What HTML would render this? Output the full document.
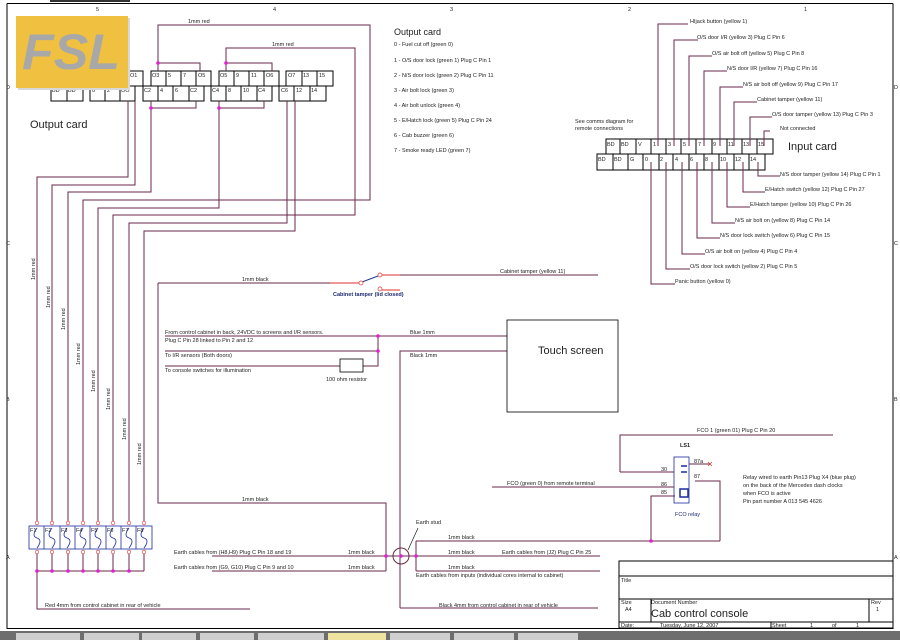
<!DOCTYPE html>
<html><head><meta charset="utf-8"><style>
html,body{margin:0;padding:0;background:#fff;}
svg{display:block;font-family:"Liberation Sans",sans-serif;}
.w{stroke:#6a2848;stroke-width:1;fill:none;}
.r{stroke:#e03030;stroke-width:1;fill:none;}
.k{stroke:#000;stroke-width:1;fill:none;}
text{font-size:5.5px;fill:#222;}
.j{fill:#e020d0;}
</style></head><body>
<svg width="900" height="640" viewBox="0 0 900 640" xmlns="http://www.w3.org/2000/svg">
<rect width="900" height="640" fill="#fff"/>
<!-- frame -->
<rect x="50" y="0" width="80" height="2" fill="#333"/>
<path class="k" d="M7 3.5H893M7 3.5V628.5H893V3.5" stroke-width="1.2"/>
<g style="font-size:8px">
<text x="96" y="11">5</text><text x="273" y="11">4</text><text x="450" y="11">3</text><text x="628" y="11">2</text><text x="804" y="11">1</text>
<text x="96" y="637">5</text><text x="273" y="637">4</text><text x="450" y="637">3</text><text x="628" y="637">2</text><text x="804" y="637">1</text>
<text x="6" y="89">D</text><text x="6" y="245">C</text><text x="6" y="401">B</text><text x="6" y="559">A</text>
<text x="894" y="89">D</text><text x="894" y="245">C</text><text x="894" y="401">B</text><text x="894" y="559">A</text>
</g>

<!-- Output card connector -->
<g class="k" stroke-width="0.8">
<rect x="128" y="71" width="15" height="15"/>
<rect x="151" y="71" width="60" height="15"/><path d="M166 71v15M181 71v15M196 71v15"/>
<rect x="219" y="71" width="60" height="15"/><path d="M234 71v15M249 71v15M264 71v15"/>
<rect x="286" y="71" width="47" height="15"/><path d="M302 71v15M317 71v15"/>
<rect x="51" y="86" width="32" height="15"/><path d="M67 86v15"/>
<rect x="90" y="86" width="45" height="15"/><path d="M105 86v15M120 86v15"/>
<rect x="143" y="86" width="61" height="15"/><path d="M158 86v15M173 86v15M189 86v15"/>
<rect x="211" y="86" width="61" height="15"/><path d="M226 86v15M241 86v15M257 86v15"/>
<rect x="279" y="86" width="47" height="15"/><path d="M294 86v15M310 86v15"/>
</g>
<g style="font-size:5.5px">
<text x="130" y="77">O1</text>
<text x="152" y="77">O3</text><text x="168" y="77">5</text><text x="183" y="77">7</text><text x="198" y="77">O5</text>
<text x="220" y="77">O5</text><text x="236" y="77">9</text><text x="251" y="77">11</text><text x="266" y="77">O6</text>
<text x="288" y="77">O7</text><text x="303" y="77">13</text><text x="319" y="77">15</text>
<text x="52" y="92">BD</text><text x="68" y="92">BD</text><text x="92" y="92">0</text><text x="107" y="92">2</text><text x="121" y="92">OO</text>
<text x="144" y="92">C2</text><text x="160" y="92">4</text><text x="175" y="92">6</text><text x="190" y="92">C2</text>
<text x="212" y="92">C4</text><text x="228" y="92">8</text><text x="243" y="92">10</text><text x="258" y="92">C4</text>
<text x="281" y="92">C6</text><text x="296" y="92">12</text><text x="311" y="92">14</text>
</g>
<text x="30" y="128" style="font-size:11px">Output card</text>

<!-- wiring from output card -->
<g class="w">
<path d="M158 71V25H370V200H83V523"/>
<path d="M226 71V48H355V215H113V523"/>
<path d="M158 63H200V71"/><path d="M226 63H272V71"/>
<path d="M151 101V192H68V523"/><path d="M151 108H196V101"/>
<path d="M219 101V208H98V523"/><path d="M219 108H264V101"/>
<path d="M128 101V177H37V523"/>
<path d="M135 101V185H52V523"/>
<path d="M287 101V223H129V523"/>
<path d="M295 101V231H144V523"/>
</g>
<circle class="j" cx="158" cy="63" r="1.8"/><circle class="j" cx="226" cy="63" r="1.8"/>
<circle class="j" cx="151" cy="108" r="1.8"/><circle class="j" cx="219" cy="108" r="1.8"/>
<text x="188" y="23">1mm red</text><text x="272" y="46">1mm red</text>
<g style="font-size:5.5px">
<text transform="translate(35,280) rotate(-90)">1mm red</text>
<text transform="translate(50,308) rotate(-90)">1mm red</text>
<text transform="translate(65,330) rotate(-90)">1mm red</text>
<text transform="translate(80,365) rotate(-90)">1mm red</text>
<text transform="translate(95,392) rotate(-90)">1mm red</text>
<text transform="translate(110,410) rotate(-90)">1mm red</text>
<text transform="translate(126,440) rotate(-90)">1mm red</text>
<text transform="translate(141,465) rotate(-90)">1mm red</text>
</g>

<!-- FSL logo -->
<rect x="18" y="18" width="112" height="72" fill="#d8d8d8"/>
<rect x="16" y="16" width="112" height="72" fill="#f0c040"/>
<text x="22" y="69" style="font-size:50px;font-weight:bold;font-style:italic;fill:#a8a8a8" textLength="98" lengthAdjust="spacingAndGlyphs">FSL</text>

<!-- Output card list -->
<text x="394" y="35" style="font-size:9px">Output card</text>
<text x="394" y="46">0 - Fuel cut off (green 0)</text>
<text x="394" y="62">1 - O/S door lock (green 1) Plug C Pin 1</text>
<text x="394" y="77">2 - N/S door lock (green 2) Plug C Pin 11</text>
<text x="394" y="92">3 - Air bolt lock (green 3)</text>
<text x="394" y="107">4 - Air bolt unlock (green 4)</text>
<text x="394" y="122">5 - E/Hatch lock (green 5) Plug C Pin 24</text>
<text x="394" y="137">6 - Cab buzzer (green 6)</text>
<text x="394" y="152">7 - Smoke ready LED (green 7)</text>

<!-- Input card -->
<g class="k" stroke-width="0.8">
<rect x="606" y="139" width="167" height="15"/>
<path d="M620 139v15M636 139v15M651 139v15M666 139v15M681 139v15M696 139v15M712 139v15M727 139v15M742 139v15M757 139v15"/>
<rect x="597" y="154" width="168" height="16"/>
<path d="M613 154v16M628 154v16M643 154v16M659 154v16M673 154v16M689 154v16M704 154v16M719 154v16M734 154v16M749 154v16"/>
</g>
<g style="font-size:5.5px">
<text x="607" y="146">BD</text><text x="621" y="146">BD</text><text x="638" y="146">V</text><text x="653" y="146">1</text><text x="668" y="146">3</text><text x="683" y="146">5</text><text x="698" y="146">7</text><text x="713" y="146">9</text><text x="728" y="146">11</text><text x="743" y="146">13</text><text x="758" y="146">15</text>
<text x="598" y="161">BD</text><text x="614" y="161">BD</text><text x="630" y="161">G</text><text x="645" y="161">0</text><text x="660" y="161">2</text><text x="675" y="161">4</text><text x="690" y="161">6</text><text x="705" y="161">8</text><text x="720" y="161">10</text><text x="735" y="161">12</text><text x="750" y="161">14</text>
</g>
<text x="788" y="150" style="font-size:11px">Input card</text>
<text x="575" y="123">See comms diagram for</text><text x="575" y="130">remote connections</text>
<g class="w">
<path d="M658 146V24H688M674 146V40H698M689 146V56H712M704 146V71H727M720 146V87H743M734 146V102H757M750 146V117H772M764 146V131H770"/>
<path d="M758 162V176H780M743 162V192H765M727 162V207H750M712 162V223H735M697 162V238H720M682 162V254H705M666 162V269H690M651 162V284H675"/>
</g>
<text x="690" y="23">HIjack button (yellow 1)</text>
<text x="697" y="39">O/S door I/R (yellow 3) Plug C Pin 6</text>
<text x="712" y="55">O/S air bolt off (yellow 5) Plug C Pin 8</text>
<text x="727" y="70">N/S door I/R (yellow 7) Plug C Pin 16</text>
<text x="743" y="86">N/S air bolt off (yellow 9) Plug C Pin 17</text>
<text x="757" y="101">Cabinet tamper (yellow 11)</text>
<text x="772" y="116">O/S door tamper (yellow 13) Plug C Pin 3</text>
<text x="780" y="130">Not connected</text>
<text x="780" y="176">N/S door tamper (yellow 14) Plug C Pin 1</text>
<text x="765" y="191">E/Hatch switch (yellow 12) Plug C Pin 27</text>
<text x="750" y="206">E/Hatch tamper (yellow 10) Plug C Pin 26</text>
<text x="735" y="222">N/S air bolt on (yellow 8) Plug C Pin 14</text>
<text x="720" y="237">N/S door lock switch (yellow 6) Plug C Pin 15</text>
<text x="705" y="253">O/S air bolt on (yellow 4) Plug C Pin 4</text>
<text x="690" y="268">O/S door lock switch (yellow 2) Plug C Pin 5</text>
<text x="675" y="283">Panic button (yellow 0)</text>

<!-- Cabinet tamper -->
<path class="w" d="M158 283H330M400 275H598M158 283V503H386V571"/>
<path class="r" d="M330 283H359M382 275H400M382 290H400"/>
<path d="M362 282L378 276" stroke="#223c88" fill="none"/>
<circle cx="361" cy="283" r="2" fill="#fff" stroke="#e03030" stroke-width="0.7"/>
<circle cx="380" cy="275" r="2" fill="#fff" stroke="#e03030" stroke-width="0.7"/>
<circle cx="380" cy="289" r="2" fill="#fff" stroke="#e03030" stroke-width="0.7"/>
<text x="242" y="281">1mm black</text>
<text x="500" y="273">Cabinet tamper (yellow 11)</text>
<text x="333" y="296" style="fill:#1c2a6e;font-weight:bold">Cabinet tamper (lid closed)</text>
<text x="242" y="501">1mm black</text>

<!-- 24V -->
<g class="w">
<path d="M165 336H507M165 351H378M165 366H340M363 366H378V336"/>
<path d="M400 608V351H507M400 608H598"/>
</g>
<rect x="340" y="359" width="23" height="13" fill="#fff" stroke="#000" stroke-width="0.8"/>
<circle class="j" cx="378" cy="336" r="1.8"/><circle class="j" cx="378" cy="351" r="1.8"/>
<text x="165" y="334">From control cabinet in back, 24VDC to screens and I/R sensors.</text>
<text x="165" y="342">Plug C Pin 28 linked to Pin 2 and 12</text>
<text x="165" y="357">To I/R sensors (Both doors)</text>
<text x="165" y="372">To console switches for illumination</text>
<text x="326" y="381">100 ohm resistor</text>
<text x="410" y="334">Blue 1mm</text>
<text x="410" y="357">Black 1mm</text>
<rect x="507" y="320" width="111" height="92" fill="#fff" stroke="#000" stroke-width="0.8"/>
<text x="538" y="354" style="font-size:11px">Touch screen</text>

<!-- fuses -->
<rect x="29" y="526" width="123" height="23" fill="none" stroke="#1c2a9e" stroke-width="0.8"/>
<g stroke="#1c2a9e" stroke-width="0.8" fill="none">
<path d="M44 526v23M60 526v23M75 526v23M90 526v23M106 526v23M121 526v23M136 526v23"/>
<path d="M37 528q-6 8 0 10t0 10M52 528q-6 8 0 10t0 10M67 528q-6 8 0 10t0 10M83 528q-6 8 0 10t0 10M98 528q-6 8 0 10t0 10M113 528q-6 8 0 10t0 10M129 528q-6 8 0 10t0 10M144 528q-6 8 0 10t0 10"/>
</g>
<g style="font-size:5.5px;fill:#1c2a9e">
<text x="30" y="532">F1</text><text x="45" y="532">F2</text><text x="61" y="532">F3</text><text x="76" y="532">F4</text><text x="91" y="532">F5</text><text x="107" y="532">F6</text><text x="122" y="532">F7</text><text x="137" y="532">F8</text>
</g>
<g class="w"><path d="M37 551V609H250M52 551V571M68 551V571M83 551V571M98 551V571M113 551V571M129 551V571M144 551V571M37 571H144"/></g>
<g fill="#fff" stroke="#e03030" stroke-width="0.6">
<circle cx="37" cy="523" r="1.8"/><circle cx="52" cy="523" r="1.8"/><circle cx="68" cy="523" r="1.8"/><circle cx="83" cy="523" r="1.8"/><circle cx="98" cy="523" r="1.8"/><circle cx="113" cy="523" r="1.8"/><circle cx="129" cy="523" r="1.8"/><circle cx="144" cy="523" r="1.8"/>
<circle cx="37" cy="552" r="1.8"/><circle cx="52" cy="552" r="1.8"/><circle cx="68" cy="552" r="1.8"/><circle cx="83" cy="552" r="1.8"/><circle cx="98" cy="552" r="1.8"/><circle cx="113" cy="552" r="1.8"/><circle cx="129" cy="552" r="1.8"/><circle cx="144" cy="552" r="1.8"/>
</g>
<g class="j"><circle cx="37" cy="571" r="1.8"/><circle cx="52" cy="571" r="1.8"/><circle cx="68" cy="571" r="1.8"/><circle cx="83" cy="571" r="1.8"/><circle cx="98" cy="571" r="1.8"/><circle cx="113" cy="571" r="1.8"/><circle cx="129" cy="571" r="1.8"/></g>
<text x="45" y="607">Red 4mm from control cabinet in rear of vehicle</text>

<!-- earth -->
<g class="w">
<path d="M212 556H416M212 571H386M416 541V571M416 541H720M416 556H600M416 571H600"/>
<path d="M720 541V481H695M651 541V496H675"/>
<path d="M620 472H674M620 472V435H833M492 487H674M689 464H710"/>
</g>
<circle cx="401" cy="556" r="8" fill="none" stroke="#6a2848"/>
<path d="M408 550L418 528" stroke="#000" stroke-width="0.6"/>
<circle class="j" cx="386" cy="556" r="1.8"/><circle class="j" cx="401" cy="556" r="1.8"/><circle class="j" cx="416" cy="556" r="1.8"/><circle class="j" cx="651" cy="541" r="1.8"/>
<text x="174" y="554">Earth cables from (H8,H9) Plug C Pin 18 and 19</text>
<text x="174" y="569">Earth cables from (G9, G10) Plug C Pin 9 and 10</text>
<text x="348" y="554">1mm black</text><text x="348" y="569">1mm black</text>
<text x="416" y="524">Earth stud</text>
<text x="448" y="539">1mm black</text><text x="448" y="554">1mm black</text><text x="448" y="569">1mm black</text>
<text x="502" y="554">Earth cables from (J2) Plug C Pin 25</text>
<text x="416" y="577">Earth cables from inputs (individual cores internal to cabinet)</text>
<text x="439" y="607">Black 4mm from control cabinet in rear of vehicle</text>

<!-- relay -->
<rect x="674" y="457" width="15" height="46" fill="none" stroke="#1c2a9e" stroke-width="0.8"/>
<path d="M681 466h6M681 472h6M680 489h8v8h-8z" stroke="#1c2a9e" stroke-width="1.5" fill="none"/>
<path d="M708 462l4 4M712 462l-4 4" stroke="#e03030" stroke-width="0.7"/>
<text x="680" y="447" style="font-weight:bold">LS1</text>
<text x="675" y="516" style="fill:#1c2a6e">FCO relay</text>
<text x="661" y="471">30</text><text x="661" y="486">86</text><text x="661" y="494">85</text>
<text x="694" y="463">87a</text><text x="694" y="478">87</text>
<text x="697" y="432">FCO 1 (green 01) Plug C Pin 20</text>
<text x="507" y="485">FCO (green 0) from remote terminal</text>
<text x="743" y="479">Relay wired to earth Pin13 Plug X4 (blue plug)</text>
<text x="743" y="487">on the back of the Mercedes dash clocks</text>
<text x="743" y="495">when FCO is active</text>
<text x="743" y="503">Pin part number A 013 545 4626</text>

<!-- title block -->
<g class="k" stroke-width="0.8">
<rect x="619" y="561" width="274" height="67"/>
<path d="M619 576H893M619 599H893M619 622H893M651 599V622M869 599V622M771 622V628"/>
</g>
<text x="621" y="582">Title</text>
<text x="621" y="604">Size</text><text x="625" y="611">A4</text>
<text x="651" y="604">Document Number</text>
<text x="651" y="617" style="font-size:11px">Cab control console</text>
<text x="871" y="604">Rev</text><text x="876" y="611">1</text>
<text x="621" y="627">Date:</text><text x="660" y="627">Tuesday, June 12, 2007</text>
<text x="772" y="627">Sheet</text><text x="810" y="627">1</text><text x="832" y="627">of</text><text x="856" y="627">1</text>

<!-- taskbar -->
<rect x="0" y="631" width="900" height="9" fill="#6e6e6e"/>
<g fill="#cfcfcf"><rect x="16" y="633" width="64" height="7"/><rect x="84" y="633" width="55" height="7"/><rect x="142" y="633" width="54" height="7"/><rect x="200" y="633" width="54" height="7"/><rect x="258" y="633" width="66" height="7"/><rect x="390" y="633" width="60" height="7"/><rect x="454" y="633" width="60" height="7"/><rect x="518" y="633" width="60" height="7"/></g>
<rect x="328" y="633" width="58" height="7" fill="#efe3a0"/>
</svg>
</body></html>
